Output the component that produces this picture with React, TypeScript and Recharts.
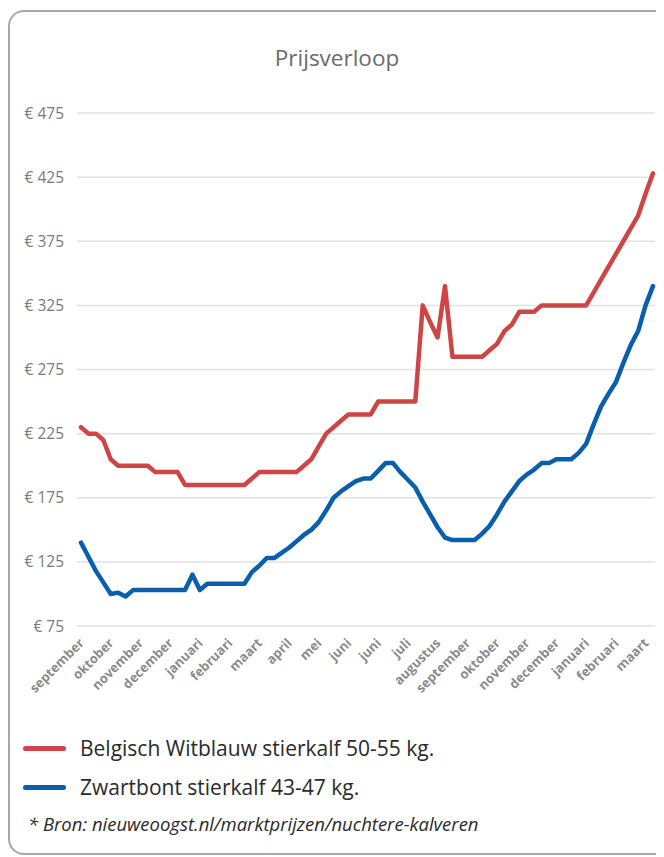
import React from 'react';
import { LineChart, Line, XAxis, YAxis, CartesianGrid } from 'recharts';

// one label every 4 weeks
const tickLabels = [
  'september', 'oktober', 'november', 'december', 'januari', 'februari', 'maart', 'april', 'mei', 'juni',
  'juni', 'juli', 'augustus', 'september', 'oktober', 'november', 'december', 'januari', 'februari', 'maart',
];

const yTicks = [75, 125, 175, 225, 275, 325, 375, 425, 475];

// weekly prices in euro
const witblauw = [
  230, 225, 225, 220, 205, 200, 200, 200, 200, 200,
  195, 195, 195, 195, 185, 185, 185, 185, 185, 185,
  185, 185, 185, 190, 195, 195, 195, 195, 195, 195,
  200, 205, 215, 225, 230, 235, 240, 240, 240, 240,
  250, 250, 250, 250, 250, 250, 325, 312, 300, 340,
  285, 285, 285, 285, 285, 290, 295, 305, 310, 320,
  320, 320, 325, 325, 325, 325, 325, 325, 325, 335,
  345, 355, 365, 375, 385, 395, 412, 428,
];

const zwartbont = [
  140, 129, 118, 109, 100, 101, 98, 103, 103, 103,
  103, 103, 103, 103, 103, 115, 103, 108, 108, 108,
  108, 108, 108, 117, 122, 128, 128, 132, 136, 141,
  146, 150, 156, 165, 175, 180, 184, 188, 190, 190,
  196, 202, 202, 195, 189, 183, 172, 162, 152, 144,
  142, 142, 142, 142, 147, 153, 162, 172, 180, 188,
  193, 197, 202, 202, 205, 205, 205, 210, 217, 232,
  246, 256, 265, 280, 294, 305, 325, 340,
];

const series = [
  { key: 'witblauw', name: 'Belgisch Witblauw stierkalf 50-55 kg.', color: '#cf4545' },
  { key: 'zwartbont', name: 'Zwartbont stierkalf 43-47 kg.', color: '#0a5fac' },
];

const data = witblauw.map((v, i) => ({ week: i, witblauw: v, zwartbont: zwartbont[i] }));

const font = '"Open Sans", "Noto Sans", sans-serif';

function MonthTick({ x, y, payload }: any) {
  const label = tickLabels[payload.value / 4] ?? '';
  return (
    <g transform={`translate(${x + 1},${y + 7})`}>
      <text
        x={0}
        y={0}
        dy={4}
        textAnchor="end"
        transform="rotate(-45)"
        fill="#8a8a8a"
        fontSize={13}
        fontWeight={700}
        fontFamily={font}
      >
        {label}
      </text>
    </g>
  );
}

export default function App() {
  return (
    <div style={{ paddingTop: 2, fontFamily: font }}>
      <div
        style={{
          position: 'relative',
          width: 654,
          height: 841,
          border: '2px solid #a8a8a8',
          borderRight: 'none',
          borderRadius: '16px 0 0 16px',
          background: '#fff',
        }}
      >
        <div
          style={{
            position: 'absolute',
            top: 33,
            left: 0,
            width: 654,
            textAlign: 'center',
            fontSize: 22.5,
            lineHeight: '26px',
            color: '#6b6b6b',
          }}
        >
          Prijsverloop
        </div>
        <div style={{ position: 'absolute', top: 78, left: 0 }}>
          <LineChart width={654} height={616} data={data} margin={{ top: 23, right: 9, left: 0, bottom: 0 }}>
            <CartesianGrid vertical={false} stroke="#e2e2e2" strokeWidth={1.5} />
            <XAxis
              dataKey="week"
              interval={3}
              axisLine={false}
              tickLine={false}
              height={80}
              padding={{ left: 4, right: 2 }}
              tick={<MonthTick />}
            />
            <YAxis
              domain={[75, 475]}
              ticks={yTicks}
              width={67}
              axisLine={false}
              tickLine={false}
              tickMargin={7}
              tickFormatter={(v) => `€ ${v}`}
              tick={{ fill: '#7a7a7a', fontSize: 15.5, fontFamily: font }}
            />
            {series.map((s) => (
              <Line
                key={s.key}
                type="linear"
                dataKey={s.key}
                name={s.name}
                stroke={s.color}
                strokeWidth={4.5}
                strokeLinejoin="round"
                strokeLinecap="round"
                dot={false}
                isAnimationActive={false}
              />
            ))}
          </LineChart>
        </div>
        {series.map((s, i) => (
          <div
            key={s.key}
            style={{
              position: 'absolute',
              top: 721 + i * 39,
              left: 13,
              height: 30,
              display: 'flex',
              alignItems: 'center',
            }}
          >
            <span style={{ width: 43, height: 5, borderRadius: 3, background: s.color, marginRight: 14 }} />
            <span style={{ fontSize: 21, color: '#2a2a2a' }}>{s.name}</span>
          </div>
        ))}
        <div
          style={{
            position: 'absolute',
            top: 800,
            left: 18,
            fontSize: 18.5,
            lineHeight: '24px',
            fontStyle: 'italic',
            color: '#2a2a2a',
          }}
        >
          * Bron: nieuweoogst.nl/marktprijzen/nuchtere-kalveren
        </div>
      </div>
    </div>
  );
}
